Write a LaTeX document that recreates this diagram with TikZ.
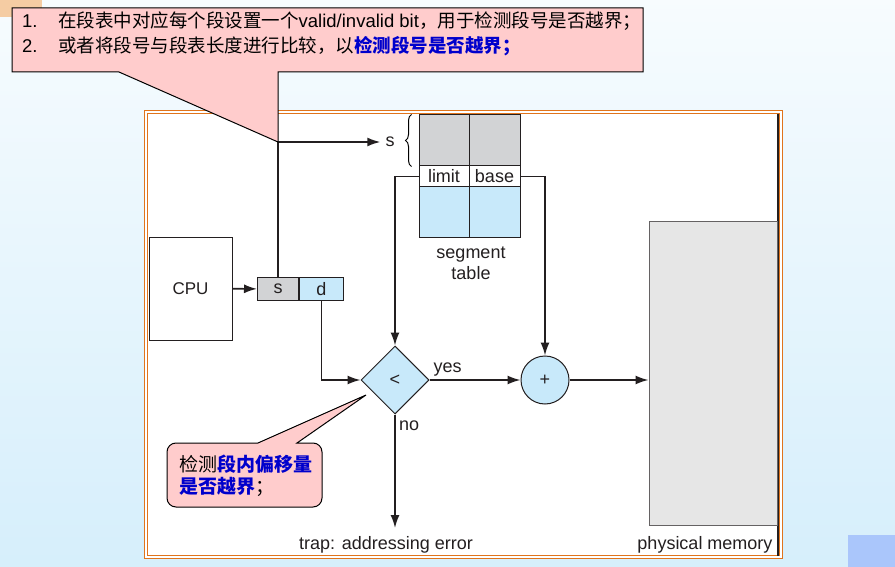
\documentclass[tikz,border=0pt]{standalone}
\usepackage{fontspec}
\setmainfont{Liberation Sans}
\newfontfamily\cjk{Noto Sans CJK SC}
\usetikzlibrary{arrows.meta,shapes.geometric,decorations.pathreplacing}
\definecolor{callpink}{HTML}{FFCCCC}
\definecolor{cellblue}{HTML}{C8E9FA}
\definecolor{cellgray}{HTML}{D2D3D5}
\definecolor{memgray}{HTML}{E6E6E6}
\definecolor{frameorange}{HTML}{E0741C}
\definecolor{hiblue}{HTML}{0000CC}
\definecolor{ink}{HTML}{231F20}

\begin{document}
\begin{tikzpicture}[x=1pt,y=-1pt,
    font=\fontsize{18}{21}\selectfont, text=ink,
    >={Latex[length=13pt,width=9pt]},
    conn/.style={draw=ink,line width=1.6pt},
    tabcell/.style={draw=ink,line width=1pt,inner sep=0pt,minimum width=50pt},
    callout/.style={draw=black,line width=1pt,fill=callpink}]
% slide background
\shade[top color=white!85!cellblue, bottom color=cellblue!75] (0,0) rectangle (895,567);
\useasboundingbox (0,0) rectangle (895,567);
\fill[brown!40!orange!40] (0,0) rectangle (42,17);
\fill[blue!15!cellblue] (848,535) rectangle (895,567);
% figure frame
\draw[frameorange,double=white,double distance=1.5pt,line width=1pt,fill=white] (146,112) rectangle (781,557);
\draw[ink,line width=1.5pt] (778,114) -- (778,556);

\begin{scope}[every node/.style={draw=ink,line width=1pt,inner sep=0pt}]
    \node[minimum width=83pt,minimum height=103pt] (cpu) at (190.5,288.5) {\fontsize{17}{20}\selectfont CPU};
    \node[fill=cellgray,minimum width=41pt,minimum height=23pt,anchor=west] (s) at (257,289) {s};
    \node[fill=cellblue,minimum width=44pt,minimum height=23pt,anchor=west] (d) at (s.east) {d};
    \node[diamond,fill=cellblue,minimum width=68pt,minimum height=68pt] (cmp) at (395,380) {<};
    \node[circle,fill=cellblue,minimum size=48pt] (add) at (545,380) {+};
    \node[fill=memgray,draw=ink!70,minimum width=128pt,minimum height=303pt] (mem) at (713,373.5) {};
\end{scope}

% segment table
\node[tabcell,fill=cellgray,minimum height=51pt] (g1) at (444,140.5) {};
\node[tabcell,fill=cellgray,minimum height=51pt,minimum width=51pt] (g2) at (494.5,140.5) {};
\node[tabcell,fill=white,minimum height=21pt] (lim) at (444,176.5) {limit};
\node[tabcell,fill=white,minimum height=21pt,minimum width=51pt] (base) at (494.5,176.5) {base};
\node[tabcell,fill=cellblue,minimum height=50pt] (b1) at (444,212) {};
\node[tabcell,fill=cellblue,minimum height=50pt,minimum width=51pt] (b2) at (494.5,212) {};
\node[align=center,inner sep=0pt] (seglbl) at (471,263) {segment\\table};

\node[inner sep=1pt] (slbl) at (390,142) {s};
\draw[line width=1pt,decorate,decoration={brace,amplitude=6pt}]
    ([xshift=-7pt]g1.south west) -- ([xshift=-7pt]g1.north west);

\node (memlbl) at (705,545) {physical memory};
\node (trap) at (386,545) {trap: addressing error};
\coordinate (trapend) at (395,528);
\coordinate (tip) at (s.north |- slbl);

% connectors
\draw[conn,->] (cpu) -- (s);
\draw[conn,->] (s.north) |- ([xshift=-4pt]slbl.west);
\draw[conn,->] (lim.west) -| (cmp.north);
\draw[conn,->] (base.east) -| (add.north);
\draw[conn,->] (d.south) |- (cmp.west);
\draw[conn,->] (cmp.east) -- node[pos=.2,above]{yes} (add.west);
\draw[conn,->] (cmp.south) -- node[pos=.1,right]{no} (trapend);
\draw[conn,->] (add.east) -- (add.east -| mem.west);

% callouts
\draw[callout] (12,8) -- (643,8) -- (643,72) -- (tip |- 0,72) -- (tip) -- (119,72) -- (12,72) -- cycle;
\begin{scope}[every node/.style={anchor=west,inner sep=0pt,text=black,font=\fontsize{18.5}{22}\selectfont}]
    \node (num1) at (22,21) {1.};
    \node (num2) at (22,46) {2.};
    \node (line1) at (58,21) {{\cjk 在段表中对应每个段设置一个}valid/invalid bit{\cjk ，用于检测段号是否越界；}};
    \node (line2) at (58,46) {{\cjk 或者将段号与段表长度进行比较，以\textcolor{hiblue}{\bfseries 检测段号是否越界；}}};
\end{scope}

\draw[callout] (258,443) -- (366,395) -- (297,443) [rounded corners=9pt] -- (322,443) -- (322,507) -- (167,507) -- (167,443) -- (200,443) [sharp corners] -- cycle;
\begin{scope}[every node/.style={anchor=west,inner sep=0pt,text=black,font=\fontsize{19}{22}\selectfont}]
    \node (note1) at (179,464) {{\cjk 检测\textcolor{hiblue}{\bfseries 段内偏移量}}};
    \node (note2) at (179,487) {{\cjk\textcolor{hiblue}{\bfseries 是否越界}；}};
\end{scope}
\end{tikzpicture}
\end{document}
